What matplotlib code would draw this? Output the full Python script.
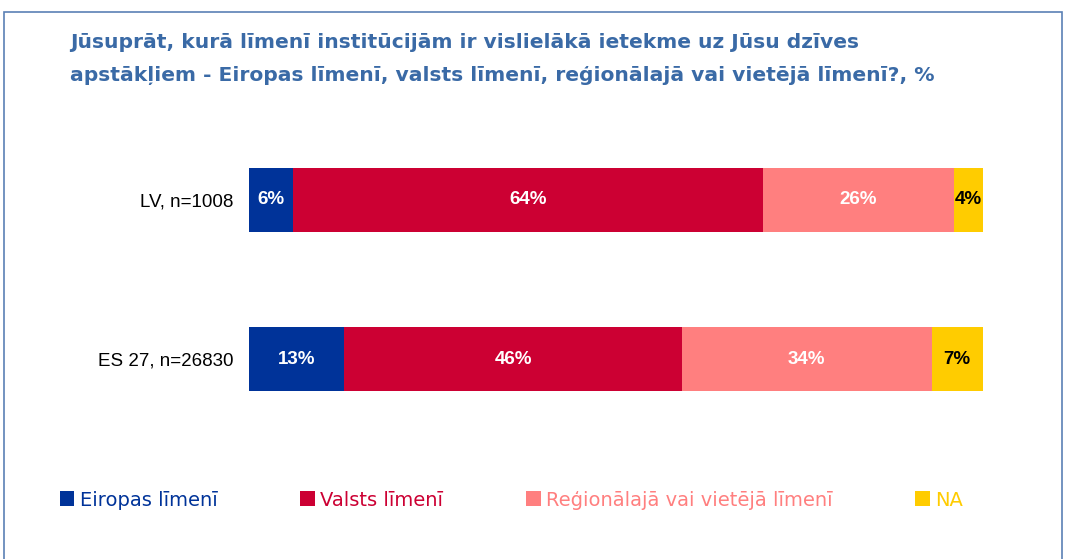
import matplotlib.pyplot as plt
from matplotlib.patches import Rectangle

plt.rcParams['font.family'] = ['Liberation Sans', 'DejaVu Sans']

groups = ["LV, n=1008", "ES 27, n=26830"]
series = ["Eiropas līmenī", "Valsts līmenī", "Reģionālajā vai vietējā līmenī", "NA"]
values = [
    [6, 13],
    [64, 46],
    [26, 34],
    [4, 7],
]
colors = ["#003399", "#CC0033", "#FF7F7F", "#FFCC00"]
label_colors = ["white", "white", "white", "black"]
title_lines = [
    "Jūsuprāt, kurā līmenī institūcijām ir vislielākā ietekme uz Jūsu dzīves",
    "apstākļiem - Eiropas līmenī, valsts līmenī, reģionālajā vai vietējā līmenī?, %",
]

W, H = 1075, 559
fig = plt.figure(figsize=(W / 100, H / 100), dpi=100)
ax = fig.add_axes([249 / W, 1 - 439 / H, 734 / W, 319 / H])

ypos = [0, 1]
left = [0, 0]
for name, vals, col, tcol in zip(series, values, colors, label_colors):
    bars = ax.barh(ypos, vals, left=left, height=0.4, color=col, label=name)
    for b, v in zip(bars, vals):
        ax.text(b.get_x() + b.get_width() / 2, b.get_y() + b.get_height() / 2, f"{v}%",
                ha="center", va="center", color=tcol, fontsize=13.5, fontweight="bold")
    left = [l + v for l, v in zip(left, vals)]

ax.set_xlim(0, 100)
ax.set_ylim(1.503, -0.503)
ax.set_yticks(ypos)
ax.set_yticklabels(groups, fontsize=13.5)
ax.tick_params(axis="y", length=0, pad=11.5)
ax.set_xticks([])
for s in ax.spines.values():
    s.set_visible(False)

# two-line title
for line, base in zip(title_lines, [48, 81]):
    fig.text(70 / W, 1 - base / H, line, ha="left", va="baseline", fontsize=14.6,
             fontweight="bold", color="#3A6AA6", family="DejaVu Sans")

leg = fig.legend(loc="center left", bbox_to_anchor=(42 / W, 1 - 500 / H), ncol=4,
                 frameon=False, prop={"family": "DejaVu Sans", "size": 14},
                 handlelength=0.77, handleheight=0.77, handletextpad=0.26,
                 columnspacing=4.26)
for t, c in zip(leg.get_texts(), colors):
    t.set_color(c)

# frame round the chart area
fig.add_artist(Rectangle((4 / W, -0.05), 1058 / W, 1 - 12 / H + 0.05,
                         transform=fig.transFigure, fill=False, edgecolor="#5B80B5", linewidth=1.2))

fig.savefig("out.png", dpi=100)
